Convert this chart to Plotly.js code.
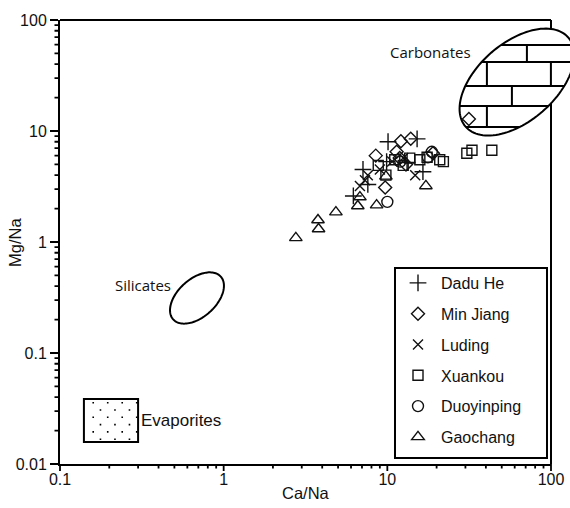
<!DOCTYPE html>
<html><head><meta charset="utf-8">
<script src="https://cdn.plot.ly/plotly-3.0.1.min.js"></script>
<style>html,body{margin:0;padding:0;background:#fff}</style>
</head><body><div id="chart" style="width:570px;height:508px"></div>
<script>
// ---- data (Ca/Na, Mg/Na molar ratios) ----
const seriesNames = ['Dadu He','Min Jiang','Luding','Xuankou','Duoyinping','Gaochang'];
const daduCa = [10.1, 15.2, 7.1, 6.2, 9.9, 16.5, 13.2, 7.6];
const daduMg = [8.0, 8.5, 4.5, 2.6, 5.3, 4.3, 5.2, 3.3];
const minCa = [12.1, 13.9, 8.5, 11.4, 11.9, 9.7, 31.5, 19.0, 13.0];
const minMg = [8.1, 8.5, 6.0, 6.5, 5.7, 3.1, 12.8, 6.3, 5.0];
const ludCa = [7.3, 6.8, 14.8, 10.7, 9.0, 12.5, 7.6];
const ludMg = [3.6, 3.2, 4.0, 5.3, 4.5, 5.7, 4.0];
const xuanCa = [8.8, 9.8, 11.1, 13.7, 15.8, 17.5, 20.9, 22.0, 30.6, 32.9, 43.5, 12.5];
const xuanMg = [4.9, 4.0, 5.5, 5.7, 5.5, 5.8, 5.5, 5.3, 6.3, 6.7, 6.7, 4.9];
const duoCa = [10.0, 18.7, 17.7, 12.0];
const duoMg = [2.3, 6.5, 5.8, 5.3];
const gaoCa = [2.76, 3.77, 3.8, 4.85, 6.6, 8.6, 17.2, 6.8, 9.8];
const gaoMg = [1.09, 1.58, 1.31, 1.86, 2.11, 2.15, 3.2, 2.54, 3.9];

const xTickVals = [0.1, 1, 10, 100];
const xTickText = ['0.1', '1', '10', '100'];
const yTickVals = [0.01, 0.1, 1, 10, 100];
const yTickText = ['0.01', '0.1', '1', '10', '100'];

// field regions (centres in data units)
const carbCentre = [61.9, 27.6];
const silCentre = [0.687, 0.313];
const evapBox = [0.14, 0.0158, 0.30, 0.0385];

// ---- geometry ----
const W = 570, H = 508, M = {l: 60, r: 19, t: 20, b: 44};
const PW = W - M.l - M.r, PH = H - M.t - M.b;
const XR = [-1, 2], YR = [-2, 2];
function d2u(x) { return (Math.log10(x) - XR[0]) / (XR[1] - XR[0]) * PW; }
function d2v(y) { return (YR[1] - Math.log10(y)) / (YR[1] - YR[0]) * PH; }
function px(u) { return +(u / PW).toFixed(5); }
function py(v) { return +(1 - v / PH).toFixed(5); }

function ellipsePath(cu, cv, a, b, thDeg) {
  const th = thDeg * Math.PI / 180, c = Math.cos(th), s = Math.sin(th);
  let p = '';
  for (let i = 0; i <= 120; i++) {
    const t = i / 120 * 2 * Math.PI;
    const du = a * Math.cos(t) * c - b * Math.sin(t) * s;
    const dup = a * Math.cos(t) * s + b * Math.sin(t) * c;
    p += (i === 0 ? 'M' : 'L') + px(cu + du) + ',' + py(cv - dup);
  }
  return p + 'Z';
}
function chordH(a, b, th, dyUp) {
  const c = Math.cos(th), s = Math.sin(th);
  const A = c*c/(a*a) + s*s/(b*b), B = 2*dyUp*(c*s/(a*a) - c*s/(b*b)), C = dyUp*dyUp*(s*s/(a*a) + c*c/(b*b)) - 1;
  const D = B*B - 4*A*C; if (D < 0) return null;
  return [(-B - Math.sqrt(D)) / (2*A), (-B + Math.sqrt(D)) / (2*A)];
}
function chordV(a, b, th, dx) {
  const c = Math.cos(th), s = Math.sin(th);
  const A = s*s/(a*a) + c*c/(b*b), B = 2*dx*(c*s/(a*a) - c*s/(b*b)), C = dx*dx*(c*c/(a*a) + s*s/(b*b)) - 1;
  const D = B*B - 4*A*C; if (D < 0) return null;
  return [(-B - Math.sqrt(D)) / (2*A), (-B + Math.sqrt(D)) / (2*A)];
}

const shapes = [];
// top & right frame (below so the carbonate field can cover it)
shapes.push({type:'line', xref:'paper', yref:'paper', x0:0, x1:1, y0:1, y1:1, line:{color:'#000', width:2}, layer:'below'});
shapes.push({type:'line', xref:'paper', yref:'paper', x0:1, x1:1, y0:0, y1:1, line:{color:'#000', width:2}, layer:'below'});

// log ticks: x major + minor, y minor
let mt = '';
xTickVals.forEach(function (t) {
  const u = d2u(t);
  mt += 'M' + px(u) + ',0L' + px(u) + ',' + py(PH + 7);
});
for (let e = XR[0]; e < XR[1]; e++) for (let k = 2; k <= 9; k++) {
  const u = d2u(k * Math.pow(10, e));
  mt += 'M' + px(u) + ',0L' + px(u) + ',' + py(PH + 4.5);
}
for (let e = YR[0]; e < YR[1]; e++) for (let k = 2; k <= 9; k++) {
  const v = d2v(k * Math.pow(10, e));
  mt += 'M0,' + py(v) + 'L' + px(-5.5) + ',' + py(v);
}
shapes.push({type:'path', xref:'paper', yref:'paper', path:mt, line:{color:'#000', width:1.8}, layer:'above'});

// carbonates
const cu = d2u(carbCentre[0]), cv = d2v(carbCentre[1]);
const ca = 68, cb = 39, cth = 41;
const cPath = ellipsePath(cu, cv, ca, cb, cth);
shapes.push({type:'path', xref:'paper', yref:'paper', path:cPath, fillcolor:'#fff', line:{width:0}, layer:'below'});
const thr = cth * Math.PI / 180;
const rows = [-37, -20, 4, 24, 45];
let bp = '';
rows.forEach(function (dyS) {
  const r = chordH(ca, cb, thr, -dyS);
  if (r) bp += 'M' + px(cu + r[0]) + ',' + py(cv + dyS) + 'L' + px(cu + r[1]) + ',' + py(cv + dyS);
});
const verts = [[-37, -20, 10], [-20, 4, -30], [-20, 4, 34], [4, 24, -5], [24, 45, -30]];
verts.forEach(function (vt) {
  const r = chordV(ca, cb, thr, vt[2]);
  if (!r) return;
  const y1 = Math.max(vt[0], -r[1]), y2 = Math.min(vt[1], -r[0]);
  if (y2 > y1) bp += 'M' + px(cu + vt[2]) + ',' + py(cv + y1) + 'L' + px(cu + vt[2]) + ',' + py(cv + y2);
});
shapes.push({type:'path', xref:'paper', yref:'paper', path:bp, line:{color:'#000', width:2}, layer:'below'});
shapes.push({type:'path', xref:'paper', yref:'paper', path:cPath, line:{color:'#000', width:2}, layer:'above'});

// silicates
shapes.push({type:'path', xref:'paper', yref:'paper', path:ellipsePath(d2u(silCentre[0]), d2v(silCentre[1]), 32, 19, 42), line:{color:'#000', width:2}, layer:'above'});

// evaporites box + dots
const eu0 = d2u(evapBox[0]), eu1 = d2u(evapBox[2]), ev0 = d2v(evapBox[3]), ev1 = d2v(evapBox[1]);
shapes.push({type:'rect', xref:'paper', yref:'paper', x0:px(eu0), x1:px(eu1), y0:py(ev1), y1:py(ev0), line:{color:'#000', width:2}, layer:'above'});
let dp = '';
for (let r = 0; r < 6; r++) {
  const v = ev0 + 3.7 + r * 7.3;
  for (let u = eu0 + 9.3 + (r % 2 ? 7.25 : 0); u < eu1 + 0.5; u += 14.5) {
    dp += 'M' + px(u - 0.8) + ',' + py(v - 0.8) + 'L' + px(u + 0.8) + ',' + py(v - 0.8) + 'L' + px(u + 0.8) + ',' + py(v + 0.8) + 'L' + px(u - 0.8) + ',' + py(v + 0.8) + 'Z';
  }
}
shapes.push({type:'path', xref:'paper', yref:'paper', path:dp, fillcolor:'#000', line:{width:0}, layer:'above'});

// legend frame
shapes.push({type:'rect', xref:'paper', yref:'paper', x0:px(395 - M.l), x1:px(547 - M.l), y0:py(458 - M.t), y1:py(268 - M.t), line:{color:'#000', width:2}, fillcolor:'rgba(0,0,0,0)', layer:'above'});

const titleFont = {family:'Liberation Sans, Arial, sans-serif', size:16.5, color:'#111'};
const annotations = [
  {text:'Carbonates', xref:'paper', yref:'paper', x:px(473 - M.l), y:py(52 - M.t), xanchor:'right', yanchor:'middle', showarrow:false, font:{family:'Open Sans', size:15, color:'#111'}},
  {text:'Silicates', xref:'paper', yref:'paper', x:px(173 - M.l), y:py(285 - M.t), xanchor:'right', yanchor:'middle', showarrow:false, font:{family:'Open Sans', size:15, color:'#111'}},
  {text:'Evaporites', xref:'paper', yref:'paper', x:px(139 - M.l), y:py(421 - M.t), xanchor:'left', yanchor:'middle', showarrow:false, font:{family:'Liberation Sans', size:17, color:'#111'}},
  {text:'Ca/Na', xref:'paper', yref:'paper', x:0.5, y:py(493 - M.t), xanchor:'center', yanchor:'middle', showarrow:false, font:titleFont},
  {text:'Mg/Na', xref:'paper', yref:'paper', x:px(15 - M.l), y:0.5, xanchor:'center', yanchor:'middle', textangle:-90, showarrow:false, font:titleFont}
];

function mk(name, xs, ys, sym, size) {
  return {type:'scatter', mode:'markers', name:name, x:xs, y:ys, legendgroup:name,
    marker:{symbol:sym, size:size, color:'#111', line:{color:'#111', width:1.4}}};
}
const traces = [
  mk(seriesNames[0], daduCa, daduMg, 'cross-thin-open', 12),
  mk(seriesNames[1], minCa, minMg, 'diamond-open', 10),
  mk(seriesNames[2], ludCa, ludMg, 'x-thin-open', 10),
  mk(seriesNames[3], xuanCa, xuanMg, 'square-open', 10),
  mk(seriesNames[4], duoCa, duoMg, 'circle-open', 11),
  mk(seriesNames[5], gaoCa, gaoMg, 'triangle-up-open', 11)
];

const axisFont = {family:'Liberation Sans, Arial, sans-serif', size:16, color:'#111'};
const layout = {
  width: W, height: H, margin: M,
  paper_bgcolor: '#fff', plot_bgcolor: 'rgba(0,0,0,0)',
  showlegend: true,
  xaxis: {type:'log', range:XR, tickmode:'array', tickvals:xTickVals, ticktext:xTickText,
    ticks:'', showline:true, linewidth:2, linecolor:'#000',
    showgrid:false, zeroline:false, tickfont:axisFont},
  yaxis: {type:'log', range:YR, tickmode:'array', tickvals:yTickVals, ticktext:yTickText,
    ticks:'outside', ticklen:8, tickwidth:1.8, tickcolor:'#000', showline:true, linewidth:2, linecolor:'#000',
    showgrid:false, zeroline:false, tickfont:axisFont},
  legend: {x:px(395 - M.l), y:py(266 - M.t), xanchor:'left', yanchor:'top',
    borderwidth:0, bgcolor:'rgba(0,0,0,0)', traceorder:'grouped', tracegroupgap:7,
    itemwidth:36, font:{family:'Liberation Sans, Arial, sans-serif', size:16, color:'#111'}},
  shapes: shapes, annotations: annotations
};
Plotly.newPlot('chart', traces, layout, {displayModeBar:false, staticPlot:true});
</script></body></html>
